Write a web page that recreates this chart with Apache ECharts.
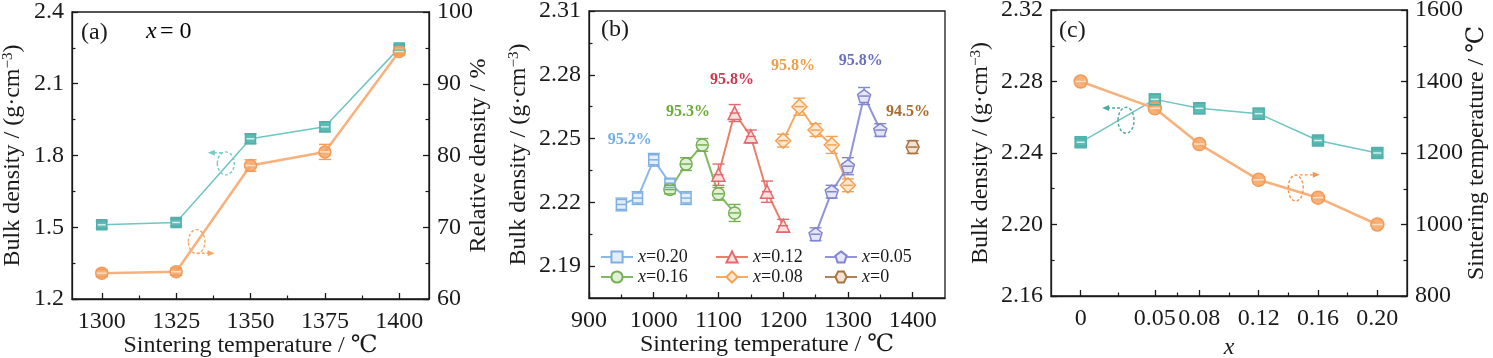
<!DOCTYPE html>
<html><head><meta charset="utf-8">
<script src="https://cdn.jsdelivr.net/npm/echarts@6/dist/echarts.min.js"></script>
<style>html,body{margin:0;padding:0;background:#fff}#c{width:1493px;height:358px}</style>
</head><body><div id="c"></div>
<script>
// ---------- DATA ----------
// Panel (a): x = 0
const tempA = [1300, 1325, 1350, 1375, 1400];
const bulkA = [1.51, 1.52, 1.87, 1.92, 2.25];
const bulkErrA = [0.015, 0.015, 0.02, 0.021, 0.012];
const relA = [63.6, 63.8, 78.6, 80.5, 94.5];
const relErrA = [0.5, 0.5, 0.8, 1.05, 0.5];
const xTicksA = [1300, 1325, 1350, 1375, 1400];
const xMinorA = [1312.5, 1337.5, 1362.5, 1387.5];
const yTicksA = [1.2, 1.5, 1.8, 2.1, 2.4];
const yMinorA = [1.35, 1.65, 1.95, 2.25];
const rTicksA = [60, 70, 80, 90, 100];
const rMinorA = [65, 75, 85, 95];

// Panel (b): bulk density vs sintering temperature for each x
const namesB = ['x=0.20', 'x=0.16', 'x=0.12', 'x=0.08', 'x=0.05', 'x=0'];
const tempB020 = [950, 975, 1000, 1025, 1050];
const densB020 = [2.219, 2.222, 2.240, 2.229, 2.222];
const errB020 = [0.003, 0.003, 0.003, 0.002, 0.003];
const tempB016 = [1025, 1050, 1075, 1100, 1125];
const densB016 = [2.226, 2.238, 2.247, 2.224, 2.215];
const errB016 = [0.002, 0.003, 0.003, 0.003, 0.004];
const tempB012 = [1100, 1125, 1150, 1175, 1200];
const densB012 = [2.233, 2.262, 2.251, 2.225, 2.209];
const errB012 = [0.005, 0.004, 0.003, 0.005, 0.003];
const tempB008 = [1200, 1225, 1250, 1275, 1300];
const densB008 = [2.249, 2.265, 2.254, 2.247, 2.228];
const errB008 = [0.003, 0.004, 0.003, 0.004, 0.003];
const tempB005 = [1250, 1275, 1300, 1325, 1350];
const densB005 = [2.205, 2.225, 2.237, 2.270, 2.254];
const errB005 = [0.003, 0.003, 0.004, 0.004, 0.003];
const tempB000 = [1400];
const densB000 = [2.246];
const errB000 = [0.003];
const xTicksB = [900, 1000, 1100, 1200, 1300, 1400];
const xMinorB = [950, 1050, 1150, 1250, 1350];
const yTicksB = [2.19, 2.22, 2.25, 2.28, 2.31];
const yMinorB = [2.205, 2.235, 2.265, 2.295];
const pctText = ['95.2%', '95.3%', '95.8%', '95.8%', '95.8%', '94.5%'];
const pctAtTemp = [963, 1053, 1121, 1215, 1320, 1393];
const pctAtDens = [2.2495, 2.2625, 2.2775, 2.2841, 2.2867, 2.2625];

// Panel (c): optimum point for each x
const xC = [0, 0.05, 0.08, 0.12, 0.16, 0.20];
const bulkC = [2.246, 2.270, 2.265, 2.262, 2.247, 2.240];
const bulkErrC = [0.002, 0.003, 0.003, 0.003, 0.002, 0.002];
const tempC = [1400, 1325, 1225, 1125, 1075, 1000];
const tempErrC = [0, 0, 0, 0, 0, 0];
const xTicksC = [0, 0.05, 0.08, 0.12, 0.16, 0.20];
const xMinorC = [0.025, 0.065, 0.10, 0.14, 0.18];
const yTicksC = [2.16, 2.20, 2.24, 2.28, 2.32];
const yMinorC = [2.18, 2.22, 2.26, 2.30];
const rTicksC = [800, 1000, 1200, 1400, 1600];
const rMinorC = [900, 1100, 1300, 1500];

// ---------- STYLE ----------
const FONT = '"Liberation Serif", "Times New Roman", "DejaVu Serif", serif';
const INK = '#1a1a1a';
const RICH = {
  n: {fontFamily: FONT, fontSize: 24, color: INK},
  s: {fontFamily: FONT, fontSize: 15, color: INK, verticalAlign: 'top'},
  i: {fontFamily: FONT, fontSize: 24, color: INK, fontStyle: 'italic'}
};
const BULK_NAME = '{n|Bulk density / (g·cm}{s|−3}{n|)}';
const TEMP_NAME = '{n|Sintering temperature / ℃}';

const xAxes = [], yAxes = [];
function axisPair(list, o) {
  const common = {type: 'value', gridIndex: o.grid, position: o.pos, min: o.min, max: o.max,
    splitLine: {show: false}, minorTick: {show: false}, minorSplitLine: {show: false}};
  list.push(Object.assign({}, common, {
    axisLine: {show: true, onZero: false, lineStyle: {color: INK, width: 1.3}},
    axisTick: {show: true, inside: true, length: 6, customValues: o.majors, lineStyle: {color: INK, width: 1.3}},
    axisLabel: {show: true, customValues: o.majors, formatter: o.fmt, margin: o.margin || 8, color: INK, fontFamily: FONT, fontSize: 24},
    name: o.name, nameLocation: 'middle', nameGap: o.gap, nameMoveOverlap: false,
    nameTextStyle: {color: INK, fontFamily: FONT, fontSize: 24, rich: RICH}
  }));
  const idx = list.length - 1;
  list.push(Object.assign({}, common, {
    axisLine: {show: false, onZero: false},
    axisTick: {show: true, inside: true, length: 3.5, customValues: o.minors, lineStyle: {color: INK, width: 1.2}},
    axisLabel: {show: false}
  }));
  return idx;
}
const f1 = v => v.toFixed(1), f2 = v => v.toFixed(2), f0 = v => String(Math.round(v));
const fx = v => (Math.abs(v) < 1e-9 ? '0' : v.toFixed(2));

const xa = axisPair(xAxes, {grid: 0, pos: 'bottom', min: 1290, max: 1410, majors: xTicksA, minors: xMinorA, fmt: f0, name: TEMP_NAME, gap: 35, margin: 11});
const yaL = axisPair(yAxes, {grid: 0, pos: 'left', min: 1.2, max: 2.4, majors: yTicksA, minors: yMinorA, fmt: f1, name: BULK_NAME, gap: 47});
const yaR = axisPair(yAxes, {grid: 0, pos: 'right', min: 60, max: 100, majors: rTicksA, minors: rMinorA, fmt: f0, name: '{n|Relative density / %}', gap: 38});
const xb = axisPair(xAxes, {grid: 1, pos: 'bottom', min: 900, max: 1450, majors: xTicksB, minors: xMinorB, fmt: f0, name: TEMP_NAME, gap: 35, margin: 11});
const yb = axisPair(yAxes, {grid: 1, pos: 'left', min: 2.175, max: 2.31, majors: yTicksB, minors: yMinorB, fmt: f2, name: BULK_NAME, gap: 58});
const xc = axisPair(xAxes, {grid: 2, pos: 'bottom', min: -0.02, max: 0.22, majors: xTicksC, minors: xMinorC, fmt: fx, name: '{i|x}', gap: 40, margin: 11});
const ycL = axisPair(yAxes, {grid: 2, pos: 'left', min: 2.16, max: 2.32, majors: yTicksC, minors: yMinorC, fmt: f2, name: BULK_NAME, gap: 58});
const ycR = axisPair(yAxes, {grid: 2, pos: 'right', min: 800, max: 1600, majors: rTicksC, minors: rMinorC, fmt: f0, name: TEMP_NAME, gap: 58});

const series = [];
function addData(o) {
  series.push({
    type: 'line', name: o.name, xAxisIndex: o.xi, yAxisIndex: o.yi,
    data: o.xs.map((x, i) => [x, o.ys[i]]),
    symbol: o.symbol, symbolSize: o.size, showSymbol: true,
    lineStyle: {color: o.line, width: o.lw},
    itemStyle: {color: o.fill, borderColor: o.border, borderWidth: 1.5},
    emphasis: {disabled: true}, z: 3, animation: false
  });
  const lineIdx = series.length - 1;
  series.push({
    type: 'custom', xAxisIndex: o.xi, yAxisIndex: o.yi, z: 4, silent: true, animation: false,
    data: o.xs.map((x, i) => [x, o.ys[i], o.errs[i]]),
    encode: {x: 0, y: 1},
    renderItem: function (params, api) {
      const x = api.value(0), y = api.value(1), e = api.value(2);
      const c = api.coord([x, y]);
      const ch = [];
      const st = {stroke: o.border, lineWidth: 1.4};
      if (e > 0) {
        const top = api.coord([x, y + e])[1], bot = api.coord([x, y - e])[1];
        ch.push({type: 'line', shape: {x1: c[0] - o.cap, y1: top, x2: c[0] + o.cap, y2: top}, style: st});
        ch.push({type: 'line', shape: {x1: c[0] - o.cap, y1: bot, x2: c[0] + o.cap, y2: bot}, style: st});
        if (top < c[1] - o.r) ch.push({type: 'line', shape: {x1: c[0], y1: top, x2: c[0], y2: c[1] - o.r}, style: st});
        if (bot > c[1] + o.r) ch.push({type: 'line', shape: {x1: c[0], y1: c[1] + o.r, x2: c[0], y2: bot}, style: st});
      }
      ch.push({type: 'line', shape: {x1: c[0] - o.mid, y1: c[1], x2: c[0] + o.mid, y2: c[1]}, style: {stroke: o.midColor, lineWidth: 1.5}});
      return {type: 'group', children: ch};
    }
  });
  return lineIdx;
}

const TEAL = {line: '#6fc5c0', fill: '#5fbab4', border: '#4fb1ab', mid: '#d6efed'};
const ORNG = {line: '#f8b07c', fill: 'rgba(245,163,98,0.85)', border: '#f39b58', mid: '#fde0c8'};

// panel (a)
const sA1 = addData({name: 'bulkA', xi: xa, yi: yaL, xs: tempA, ys: bulkA, errs: bulkErrA, symbol: 'rect', size: 10, line: TEAL.line, lw: 1.5, fill: TEAL.fill, border: TEAL.border, midColor: TEAL.mid, r: 5, cap: 6, mid: 4});
const sA2 = addData({name: 'relA', xi: xa, yi: yaR, xs: tempA, ys: relA, errs: relErrA, symbol: 'circle', size: 12, line: ORNG.line, lw: 2.5, fill: ORNG.fill, border: ORNG.border, midColor: ORNG.mid, r: 6, cap: 6, mid: 5});

// panel (b)
const PENT = 'path://M50,0 L100,38 L81,100 L19,100 L0,38 Z';
const HEX = 'path://M25,0 L75,0 L100,50 L75,100 L25,100 L0,50 Z';
const bDefs = [
  {xs: tempB020, ys: densB020, errs: errB020, symbol: 'rect', size: 10, r: 5, line: '#88b9ea', fill: '#e3eefa', border: '#7fb0e4'},
  {xs: tempB016, ys: densB016, errs: errB016, symbol: 'circle', size: 12, r: 6, line: '#82b962', fill: '#e2f0d9', border: '#74b052'},
  {xs: tempB012, ys: densB012, errs: errB012, symbol: 'triangle', size: 13, r: 6, line: '#e8806c', fill: '#fbe0dc', border: '#e26a6e'},
  {xs: tempB008, ys: densB008, errs: errB008, symbol: 'diamond', size: 15, r: 7, line: '#f6aa62', fill: '#fde8d3', border: '#f4a152'},
  {xs: tempB005, ys: densB005, errs: errB005, symbol: PENT, size: 13, r: 6, line: '#9194d6', fill: '#e6e6f6', border: '#8286cf'},
  {xs: tempB000, ys: densB000, errs: errB000, symbol: HEX, size: 13, r: 6, line: '#b58152', fill: '#f1e3d5', border: '#a9733f'}
];
const bLine = bDefs.map((d, k) => addData(Object.assign({name: namesB[k], xi: xb, yi: yb, lw: 2, midColor: d.border, cap: 6, mid: 5}, d)));
const pctColors = ['#72aee6', '#6aab33', '#d8344e', '#f29d45', '#6a6fbf', '#aa6c2c'];

// panel (c)
const sC1 = addData({name: 'bulkC', xi: xc, yi: ycL, xs: xC, ys: bulkC, errs: bulkErrC, symbol: 'rect', size: 11, line: TEAL.line, lw: 1.5, fill: TEAL.fill, border: TEAL.border, midColor: TEAL.mid, r: 5.5, cap: 6, mid: 4});
const sC2 = addData({name: 'tempC', xi: xc, yi: ycR, xs: xC, ys: tempC, errs: tempErrC, symbol: 'circle', size: 13, line: ORNG.line, lw: 2.5, fill: ORNG.fill, border: ORNG.border, midColor: ORNG.mid, r: 6.5, cap: 6, mid: 5});

const legendCommon = {orient: 'vertical', itemWidth: 32, itemHeight: 14, itemGap: 2, padding: 0, selectedMode: false,
  formatter: name => '{i|x}{n|' + name.slice(1) + '}',
  textStyle: {rich: {i: {fontFamily: FONT, fontSize: 18, fontStyle: 'italic', color: INK}, n: {fontFamily: FONT, fontSize: 18, color: INK}}}};

const grids = [
  {left: 72, top: 12, width: 357, height: 287},
  {left: 589, top: 11, width: 356, height: 287},
  {left: 1051, top: 10, width: 356, height: 286}
].map(g => Object.assign(g, {show: true, borderColor: INK, borderWidth: 1.3, backgroundColor: 'transparent', containLabel: false, outerBoundsMode: 'none'}));

const chart = echarts.init(document.getElementById('c'));
chart.setOption({
  animation: false,
  textStyle: {fontFamily: FONT},
  grid: grids,
  xAxis: xAxes,
  yAxis: yAxes,
  legend: [
    Object.assign({left: 600, top: 248, data: ['x=0.20', 'x=0.16']}, legendCommon),
    Object.assign({left: 715, top: 248, data: ['x=0.12', 'x=0.08']}, legendCommon),
    Object.assign({left: 824, top: 248, data: ['x=0.05', 'x=0']}, legendCommon)
  ],
  series: series
});

// ---------- annotations ----------
function txt(x, y, text, extra) {
  return {type: 'text', x: x, y: y, silent: true, z: 10,
    style: Object.assign({text: text, fontFamily: FONT, fontSize: 24, fill: INK, align: 'left', verticalAlign: 'middle', textAlign: 'left', textVerticalAlign: 'middle'}, extra || {})};
}
function loop(si, pt, rx, ry, adx0, adx1, ady, color) {
  const c = chart.convertToPixel({seriesIndex: si}, pt);
  const y = c[1] + ady, x0 = c[0] + adx0, x1 = c[0] + adx1;
  const dir = Math.sign(x1 - x0);
  const dash = {stroke: color, lineWidth: 1.4, lineDash: [3, 2], fill: null};
  return [
    {type: 'ellipse', shape: {cx: c[0], cy: c[1], rx: rx, ry: ry}, style: dash, z: 10, silent: true},
    {type: 'line', shape: {x1: x0, y1: y, x2: x1 - dir * 5, y2: y}, style: dash, z: 10, silent: true},
    {type: 'polygon', shape: {points: [[x1, y], [x1 - dir * 7, y - 3], [x1 - dir * 7, y + 3]]}, style: {fill: color}, z: 10, silent: true}
  ];
}
const els = [];
els.push(txt(81, 33, '(a)'));
els.push({type: 'text', x: 146, y: 32, silent: true, z: 10, style: {text: '{i|x} {n|= 0}', rich: RICH, align: 'left', verticalAlign: 'middle', textAlign: 'left', textVerticalAlign: 'middle'}});
els.push(txt(601, 30, '(b)'));
els.push(txt(1059, 31, '(c)'));
pctText.forEach((t, k) => {
  const p = chart.convertToPixel({seriesIndex: bLine[k]}, [pctAtTemp[k], pctAtDens[k]]);
  els.push({type: 'text', x: p[0], y: p[1], silent: true, z: 10,
    style: {text: t, fontFamily: FONT, fontSize: 16, fontWeight: 'bold', fill: pctColors[k], align: 'center', verticalAlign: 'middle', textAlign: 'center', textVerticalAlign: 'middle'}});
});
els.push(...loop(sA1, [1341.7, 1.767], 8.5, 11.5, -4, -18, -10.6, '#7ccbc6'));
els.push(...loop(sA2, [1331.9, 68.0], 8.3, 12, 0, 18, 11.6, '#f5a664'));
els.push(...loop(sC1, [0.0306, 2.2583], 8, 13, -6, -24, -12.3, '#4fa8a3'));
els.push(...loop(sC2, [0.145, 1102], 7.5, 13, 4, 24, -13.2, '#f39650'));
chart.setOption({graphic: {elements: els}});
</script></body></html>
